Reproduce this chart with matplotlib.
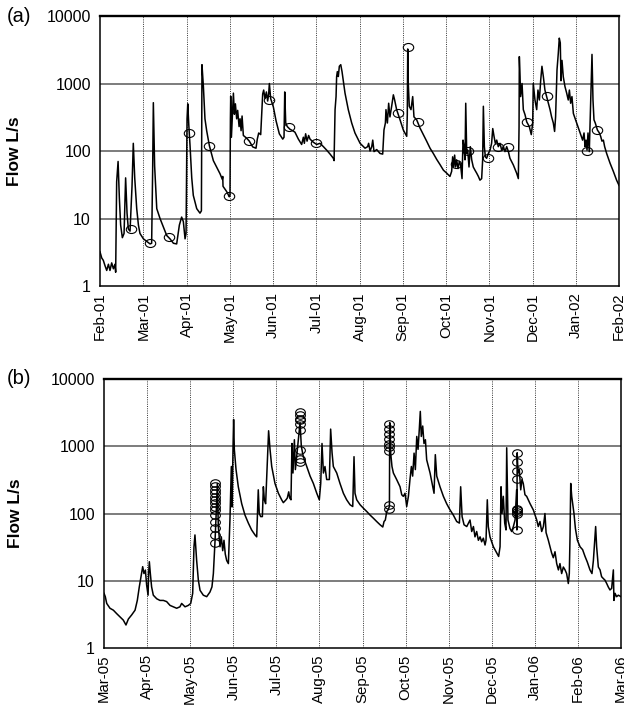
#Flow records with sampling points, two panels
import numpy as np
import matplotlib
matplotlib.use("Agg")
import matplotlib.pyplot as plt
from matplotlib.path import Path
from matplotlib.transforms import Affine2D
from matplotlib.ticker import FixedLocator, NullLocator

plt.rcParams['font.family'] = ['Liberation Sans', 'DejaVu Sans']

# ---- panel (a): Feb-01 to Feb-02, x = days since start ----
days_a = [0, 1.2, 2.3, 3.5, 4.7, 5.9, 7.0, 8.2, 9.4, 10.5, 11.0, 11.7, 12.7, 13.6, 14.5,
          15.7, 16.9, 18.0, 19.0, 19.9, 21.1, 22.5, 23.4, 24.4, 25.8, 27.0, 28.1, 30.5,
          32.8, 35.2, 36.3, 37.0, 37.5, 38.4, 39.9, 42.2, 44.5, 46.9, 49.2, 51.6, 53.9,
          55.8, 57.4, 58.6, 59.8, 60.5, 61.2, 61.7, 62.4, 63.3, 64.5, 65.6, 68.0, 70.3,
          71.3, 71.7, 72.7, 73.8, 75.0, 76.9, 79.7, 84.4, 86.0, 86.3, 86.5, 89.1, 90.9,
          91.4, 91.7, 91.9, 92.4, 92.8, 93.8, 94.5, 95.2, 96.1, 96.8, 97.8, 98.5, 99.2,
          99.9, 100.8, 103.1, 105.0, 107.4, 109.7, 110.6, 111.6, 113.0, 114.4, 115.1,
          116.0, 117.0, 117.9, 118.6, 119.1, 120.0, 121.9, 123.8, 126.1, 128.5, 129.4,
          129.9, 130.6, 131.7, 133.6, 135.5, 137.1, 139.5, 141.8, 143.0, 143.7, 144.6,
          145.6, 146.7, 147.7, 150.0, 152.4, 154.7, 157.1, 159.4, 161.8, 164.1, 164.6,
          165.3, 166.0, 166.4, 166.9, 167.6, 168.3, 169.3, 170.2, 172.3, 174.6, 177.0,
          179.3, 182.9, 186.4, 188.2, 188.9, 189.9, 191.1, 191.8, 192.7, 194.6, 196.9,
          198.8, 199.7, 200.7, 201.1, 202.1, 203.0, 203.9, 205.1, 206.3, 207.2, 208.6,
          211.0, 213.3, 215.7, 216.1, 216.4, 216.8, 217.5, 218.7, 219.9, 220.8, 222.7,
          225.0, 227.4, 229.7, 232.1, 234.4, 236.8, 239.1, 241.5, 243.8, 246.1, 247.3,
          248.0, 248.7, 249.4, 250.1, 250.8, 251.8, 252.7, 253.6, 254.6, 255.3, 256.0,
          256.7, 257.2, 257.9, 258.6, 259.5, 260.4, 261.4, 262.5, 263.7, 264.9, 266.1,
          267.2, 268.4, 269.1, 269.6, 270.3, 271.0, 271.9, 273.1, 274.3, 275.4, 276.2,
          277.1, 278.0, 279.0, 280.1, 281.3, 282.5, 283.6, 284.8, 286.0, 287.2, 288.3,
          290.7, 293.0, 294.2, 294.7, 294.9, 295.4, 295.8, 296.8, 297.7, 298.9, 300.1,
          301.9, 303.3, 304.3, 304.7, 305.9, 307.1, 308.0, 309.0, 309.9, 310.8, 311.8,
          312.9, 315.3, 316.5, 317.6, 318.8, 319.7, 320.4, 321.4, 322.3, 323.0, 323.7,
          324.2, 324.9, 325.8, 327.0, 328.2, 329.3, 330.1, 331.0, 331.9, 332.9, 335.2,
          337.6, 339.4, 340.4, 341.1, 341.8, 342.5, 343.2, 344.1, 345.1, 346.0, 346.7,
          347.4, 348.3, 349.8, 351.2, 352.1, 353.0, 354.0, 354.9, 356.3, 358.7, 361.0,
          363.3, 365.0]
flow_a = [3.2, 2.6, 2.4, 2.0, 1.7, 2.1, 1.7, 2.2, 1.8, 2.1, 1.6, 35, 70, 20, 8,
          5.2, 6, 40, 12, 7, 6.5, 30, 130, 40, 14, 8, 6, 5,
          4.6, 4.2, 4.3, 50, 520, 60, 14, 10, 7.5, 5.6, 5.0, 4.3, 4.2,
          8, 10.5, 9, 5, 6, 300, 500, 250, 120, 40, 22, 14, 12,
          13, 1900, 900, 300, 200, 120, 72, 46, 38, 42, 30, 25, 21,
          22, 300, 650, 160, 250, 720, 350, 500, 300, 400, 230, 300, 200,
          330, 170, 155, 140, 115, 110, 150, 185, 175, 700, 800,
          600, 750, 550, 700, 1000, 600, 450, 280, 180, 150, 160,
          750, 260, 230, 210, 200, 190, 150, 125, 160, 130, 180,
          140, 170, 150, 135, 125, 130, 116, 103, 90, 78, 72,
          410, 640, 1260, 1500, 1270, 1800, 1900, 1500, 720, 410, 260,
          185, 130, 110, 116, 130, 100, 116, 145, 98, 105, 92,
          90, 205, 260, 410, 260, 510, 320, 460, 680, 570, 410,
          290, 205, 165, 345, 3250, 1000, 460, 410, 640, 320, 290,
          220, 175, 140, 110, 92, 75, 63, 52, 47, 42, 50,
          82, 58, 87, 58, 74, 55, 70, 62, 39, 145, 116,
          74, 510, 92, 103, 58, 116, 74, 58, 52, 47, 42,
          37, 39, 74, 460, 116, 82, 78, 92, 103, 130, 215,
          165, 130, 145, 116, 130, 103, 116, 98, 116, 98, 78,
          62, 47, 39, 230, 2500, 1260, 640, 1000, 410, 345, 270,
          230, 175, 260, 1000, 570, 410, 800, 570, 1100, 1800, 1260,
          800, 510, 410, 320, 260, 195, 320, 1600, 2800, 4700, 4000,
          1100, 2200, 1260, 900, 720, 570, 800, 510, 640, 360, 260,
          185, 145, 185, 116, 145, 103, 185, 98, 570, 2700, 570,
          290, 260, 205, 185, 165, 140, 145, 116, 92, 66, 50,
          37, 31]
samp_days_a = [21.8, 35.2, 48.8, 62.8, 76.9, 90.9, 105.0, 119.1, 132.7, 151.9,
               209.3, 216.4, 223.4, 250.1, 258.8, 272.9, 279.9, 286.9, 300.3, 314.6,
               342.5, 349.5]
samp_flow_a = [6.9, 4.35, 5.3, 187, 118, 21.5, 142, 572, 230, 133,
               370, 3425, 267, 64, 100, 80, 114, 114, 265, 645,
               100, 205]
months_a = ['Feb-01', 'Mar-01', 'Apr-01', 'May-01', 'Jun-01', 'Jul-01', 'Aug-01',
            'Sep-01', 'Oct-01', 'Nov-01', 'Dec-01', 'Jan-02', 'Feb-02']

# ---- panel (b): Mar-05 to Mar-06 ----
days_b = [0, 0.9, 1.9, 4.2, 6.6, 8.9, 11.3, 13.6, 15.5, 17.2, 19.5, 21.9, 23.5, 24.9,
          25.9, 27.3, 28.2, 29.2, 30.1, 31.1, 31.5, 32.0, 32.7, 33.6, 34.8, 37.2, 39.5,
          41.9, 44.2, 46.6, 48.9, 51.3, 53.6, 54.8, 57.2, 59.5, 61.2, 62.6, 63.5, 64.2,
          65.4, 66.6, 67.8, 70.1, 72.5, 74.8, 76.2, 77.2, 78.4, 79.1, 80.0, 80.7, 81.9,
          82.8, 83.8, 84.7, 85.6, 86.6, 87.8, 88.9, 89.9, 90.4, 91.1, 91.5, 92.0, 93.2,
          94.8, 97.2, 99.5, 101.9, 104.2, 106.6, 107.8, 108.9, 109.6, 110.6, 111.8,
          112.5, 113.2, 114.1, 115.3, 116.2, 117.2, 118.4, 120.7, 123.1, 125.4, 126.6,
          128.5, 129.4, 130.4, 131.1, 132.0, 132.7, 133.4, 134.4, 135.1, 136.0, 137.2,
          138.4, 139.3, 140.7, 143.1, 145.5, 147.8, 150.2, 152.0, 153.0, 153.9, 154.9,
          156.0, 157.2, 159.1, 160.0, 161.0, 161.9, 164.3, 166.6, 169.0, 171.3, 173.7,
          175.6, 176.5, 177.2, 178.4, 180.8, 183.1, 185.5, 187.8, 190.2, 192.5, 194.9,
          196.8, 197.7, 198.6, 199.6, 200.5, 201.5, 201.7, 202.4, 203.3, 204.3, 206.6,
          209.0, 210.2, 211.3, 212.5, 213.7, 214.9, 216.0, 217.0, 217.9, 218.9, 219.8,
          220.8, 221.7, 222.6, 223.3, 224.0, 225.0, 225.9, 226.9, 227.8, 230.2, 232.1,
          233.0, 233.9, 234.9, 237.2, 239.6, 241.9, 244.3, 246.6, 249.0, 250.9, 251.8,
          252.8, 254.2, 256.1, 258.4, 259.6, 260.8, 261.9, 263.1, 264.3, 265.5, 266.6,
          267.8, 269.0, 269.7, 270.6, 271.3, 272.5, 274.9, 277.2, 278.6, 279.6, 280.3,
          281.0, 281.9, 282.9, 283.8, 284.3, 285.2, 286.6, 287.8, 289.0, 290.2, 291.3,
          291.5, 291.7, 292.3, 293.2, 294.2, 295.1, 296.0, 297.2, 298.4, 300.8, 303.1,
          305.5, 306.6, 307.8, 309.0, 310.2, 311.3, 312.1, 313.7, 314.9, 316.0, 317.2,
          318.4, 319.6, 320.8, 321.9, 323.1, 324.3, 325.5, 326.6, 327.8, 328.5, 329.0,
          329.5, 330.2, 330.9, 331.8, 332.8, 334.2, 336.1, 337.9, 339.6, 341.2, 343.1,
          344.5, 345.5, 347.1, 347.8, 349.0, 350.2, 351.3, 352.5, 353.7, 354.9, 356.0,
          357.2, 358.4, 359.6, 360.0, 360.8, 361.9, 363.1, 365.0]
flow_b = [6.5, 5.8, 4.6, 3.9, 3.65, 3.25, 2.9, 2.6, 2.2, 2.7, 3.1, 3.65, 5.1, 8.1,
          10.8, 16.2, 12.8, 14.4, 8.6, 6.1, 12.8, 19.2, 12.8, 8.1, 6.1, 5.4, 5.1,
          5.1, 4.9, 4.3, 4.1, 3.9, 4.1, 4.6, 4.1, 4.3, 4.6, 6.5, 32, 48,
          20, 10.2, 7.2, 6.1, 5.8, 6.8, 8.1, 12.8, 40, 90, 280, 64, 32,
          45, 28, 40, 25, 20, 18, 80, 500, 125, 1000, 2500, 900, 450,
          250, 140, 95, 72, 57, 48, 45, 225, 100, 90, 90,
          250, 160, 140, 560, 1700, 900, 500, 280, 200, 160, 145,
          160, 170, 210, 170, 160, 1100, 400, 1250, 450, 700, 1250,
          2250, 1000, 700, 500, 360, 280, 200, 160, 280, 1100, 400,
          500, 320, 320, 1800, 800, 500, 400, 280, 200, 160, 135,
          127, 700, 200, 160, 135, 120, 107, 95, 85, 76, 68,
          63, 76, 80, 107, 113, 127, 2250, 790, 500, 400, 320,
          250, 190, 180, 200, 127, 180, 320, 500, 360, 790, 450,
          1400, 900, 1800, 3300, 1400, 2000, 1100, 1250, 630, 400, 250,
          200, 750, 360, 250, 180, 140, 113, 95, 76, 72, 250,
          90, 68, 64, 80, 54, 64, 45, 54, 40, 45, 38,
          43, 34, 40, 160, 64, 45, 32, 26, 23, 32, 250,
          100, 180, 72, 57, 950, 80, 60, 54, 64, 80, 225,
          57, 800, 400, 450, 225, 320, 280, 190, 180, 140, 113,
          80, 64, 76, 54, 64, 100, 52, 40, 32, 26, 22,
          27, 18, 14.5, 18, 12.8, 16, 14.5, 12.8, 9.1, 12.8, 45,
          280, 180, 140, 100, 60, 40, 32, 29, 23, 19, 14.5,
          12.8, 20, 64, 32, 16, 14.5, 11.5, 10.8, 10.2, 9.1, 8.1,
          7.3, 7.7, 14.5, 5.1, 6.5, 5.8, 6.1, 5.8]
samp_days_b = [78.6] * 14 + [138.2] * 9 + [201.0] * 9 + [291.4] * 9
samp_flow_b = [284, 253, 226, 201, 179, 160, 143, 127, 113, 96, 76, 60, 48, 36,
               3230, 2890, 2570, 2430, 2160, 1725, 870, 653, 583,
               2160, 1820, 1540, 1300, 1090, 975, 850, 132, 118,
               794, 583, 436, 330, 118, 112, 105, 99, 57.5]
months_b = ['Mar-05', 'Apr-05', 'May-05', 'Jun-05', 'Jul-05', 'Aug-05', 'Sep-05',
            'Oct-05', 'Nov-05', 'Dec-05', 'Jan-06', 'Feb-06', 'Mar-06']

yticks = [1, 10, 100, 1000, 10000]

# slightly wide open ellipse for the sample markers
ell = Path.unit_circle().transformed(Affine2D().scale(1.3, 1.0))

fig = plt.figure(figsize=(6.24, 7.15), dpi=100)
ax1 = fig.add_axes([0.1603, 0.600, 0.8317, 0.3776])
ax2 = fig.add_axes([0.1667, 0.0937, 0.8285, 0.3762])


def style(ax, months, xlab):
    ax.set_yscale('log')
    ax.set_ylim(1, 10000)
    ax.set_xlim(0, 365)
    ax.yaxis.set_major_locator(FixedLocator(yticks))
    ax.yaxis.set_minor_locator(NullLocator())
    ax.set_yticklabels([str(v) for v in yticks])
    xt = np.linspace(0, 365, len(months))
    ax.set_xticks(xt)
    ax.set_xticklabels(months, rotation=90)
    ax.tick_params(axis='y', length=0, labelsize=11.5, pad=6.5)
    ax.tick_params(axis='x', length=0, labelsize=10.8, pad=4.5)
    for v in yticks[1:-1]:
        ax.axhline(v, color='0.35', lw=1.1, zorder=1)
    for v in xt[1:-1]:
        ax.axvline(v, color='0.2', lw=0.7, ls=(0, (1, 1.3)), zorder=1)
    for s in ax.spines.values():
        s.set_linewidth(1.1)
    ax.spines['top'].set_linewidth(1.7)
    ax.set_ylabel('Flow L/s', fontsize=12.5, fontweight='bold')
    ax.yaxis.set_label_coords(xlab, 0.5)


ax1.plot(days_a, flow_a, color='black', lw=1.1, zorder=3)
ax1.plot(samp_days_a, samp_flow_a, ls='none', marker=ell, ms=7.5, mfc='none',
         mec='black', mew=0.8, zorder=4)
style(ax1, months_a, -0.15)

ax2.plot(days_b, flow_b, color='black', lw=1.1, zorder=3)
ax2.plot(samp_days_b, samp_flow_b, ls='none', marker=ell, ms=7, mfc='none',
         mec='black', mew=0.8, zorder=4)
style(ax2, months_b, -0.157)

fig.text(0.011, 0.9776, '(a)', fontsize=14.5, va='center', ha='left')
fig.text(0.011, 0.470, '(b)', fontsize=14.5, va='center', ha='left')

fig.savefig('out.png', dpi=100)
